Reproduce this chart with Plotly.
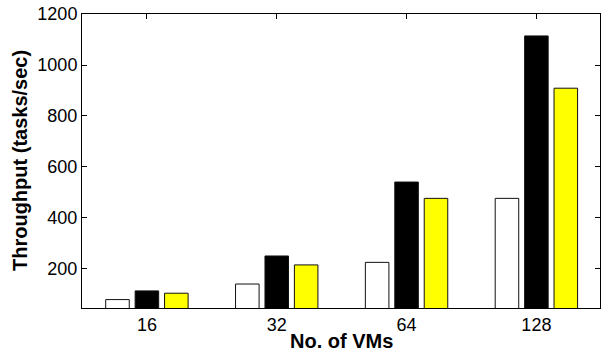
import plotly.graph_objects as go

# Number of VMs per experiment
vms = ["16", "32", "64", "128"]

# Throughput (tasks/sec) for the three configurations
series_white = [80, 141, 226, 477]
series_black = [114, 251, 541, 1114]
series_yellow = [105, 216, 477, 909]

y_ticks = [200, 400, 600, 800, 1000, 1200]

FONT = "Liberation Sans, Arial, sans-serif"

fig = go.Figure()
for vals, color in [(series_white, "white"), (series_black, "black"), (series_yellow, "#ffff00")]:
    fig.add_trace(go.Bar(
        x=vms, y=vals,
        marker=dict(color=color, line=dict(color="#111111", width=1)),
        showlegend=False,
    ))

axis_common = dict(
    showline=True, linecolor="black", linewidth=1, mirror="ticks",
    ticks="inside", ticklen=5, tickcolor="black", tickwidth=1,
    showgrid=False, zeroline=False,
    tickfont=dict(family=FONT, size=18, color="black"),
)

plot_w = 602 - 82 - 2
plot_h = 354 - 14 - 46

fig.update_layout(
    width=602, height=354,
    margin=dict(l=82, r=2, t=14, b=46),
    paper_bgcolor="white", plot_bgcolor="white",
    barmode="group", bargap=0.32, bargroupgap=0.2,
    xaxis=dict(axis_common, type="category", range=[-0.5, 3.49]),
    yaxis=dict(axis_common, range=[47, 1200], tickvals=y_ticks),
    annotations=[
        dict(text="<b>No. of VMs</b>", x=0.5, xref="paper",
             y=-(341 - 308) / plot_h, yref="paper",
             yanchor="middle", xanchor="center", showarrow=False,
             font=dict(family=FONT, size=20, color="black")),
        dict(text="<b>Throughput (tasks/sec)</b>", x=-(82 - 20) / plot_w, xref="paper",
             y=0.5, yref="paper",
             textangle=-90, xanchor="center", yanchor="middle", showarrow=False,
             font=dict(family=FONT, size=20, color="black")),
    ],
)

fig.write_html("out.html")
